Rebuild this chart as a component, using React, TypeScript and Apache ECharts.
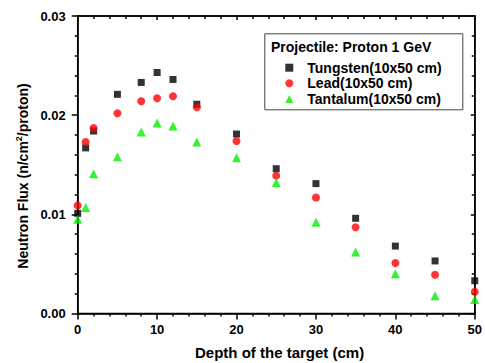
import React, { useEffect, useRef } from "react";
import * as echarts from "echarts";

const depth = [0, 1, 2, 5, 8, 10, 12, 15, 20, 25, 30, 35, 40, 45, 50];
const tungsten = [0.0101, 0.0167, 0.0184, 0.0221, 0.0233, 0.0243, 0.0236, 0.0211, 0.0181, 0.0146, 0.0131, 0.0096, 0.0068, 0.0053, 0.0033];
const lead = [0.0109, 0.0173, 0.0187, 0.0202, 0.0214, 0.0217, 0.0219, 0.0208, 0.0174, 0.0139, 0.0117, 0.0087, 0.0051, 0.0039, 0.0022];
const tantalum = [0.0095, 0.0107, 0.0141, 0.0158, 0.0183, 0.0192, 0.0189, 0.0173, 0.0157, 0.0132, 0.0092, 0.0062, 0.0040, 0.0018, 0.0014];
const seriesNames = ["Tungsten(10x50 cm)", "Lead(10x50 cm)", "Tantalum(10x50 cm)"];
const legendTitle = "Projectile: Proton 1 GeV";
const xTitle = "Depth of the target (cm)";
const yTitleMain = "Neutron Flux (n/cm";
const yTitleSup = "2";
const yTitleEnd = "/proton)";

const FONT = "Arial, 'Liberation Sans', sans-serif";

function parts(inside: boolean, labels: boolean) {
  return {
    axisLine: { show: true, onZero: false, lineStyle: { color: "#000000", width: 1.5 } },
    axisTick: { show: true, inside, length: inside ? 4 : 6, lineStyle: { color: "#000000", width: 1.5 } },
    minorTick: { show: true, splitNumber: 5, length: 3, lineStyle: { color: "#000000", width: 1.5 } },
    splitLine: { show: false },
    axisLabel: labels
      ? { show: true, color: "#000", fontSize: 13, fontWeight: "bold", fontFamily: FONT }
      : { show: false },
  };
}

export default function App() {
  const ref = useRef<HTMLDivElement>(null);
  useEffect(() => {
    if (!ref.current) return;
    const chart = echarts.init(ref.current, undefined, { renderer: "svg" });
    const pair = (ys: number[]) => depth.map((x, i) => [x, ys[i]]);
    const xb: any = parts(false, true);
    const yl: any = parts(false, true);
    chart.setOption({
      animation: false,
      backgroundColor: "#fff",
      grid: { left: 77.7, right: 4.3, top: 16, bottom: 49.5, show: true, borderColor: "#000", borderWidth: 1.5, backgroundColor: "transparent" },
      xAxis: [
        { type: "value", min: 0, max: 50, interval: 10, position: "bottom", ...xb, axisLabel: { ...xb.axisLabel, margin: 9 } },
        { type: "value", min: 0, max: 50, interval: 10, position: "top", ...parts(true, false) },
      ],
      yAxis: [
        {
          type: "value", min: 0, max: 0.03, interval: 0.01, position: "left", ...yl,
          axisLabel: { ...yl.axisLabel, margin: 12, formatter: (v: number) => v.toFixed(2) },
        },
        { type: "value", min: 0, max: 0.03, interval: 0.01, position: "right", ...parts(true, false) },
      ],
      legend: {
        orient: "vertical", left: 280.3, top: 54.9, itemWidth: 8, itemHeight: 8, itemGap: 0,
        data: seriesNames,
        textStyle: { color: "#000", fontSize: 14, fontWeight: "bold", fontFamily: FONT, padding: [0, 0, 0, 9], lineHeight: 15.6 },
      },
      graphic: [
        {
          type: "rect", left: 264.3, top: 33.3, z: 0,
          shape: { width: 198, height: 76 },
          style: { fill: "#fff", stroke: "#444", lineWidth: 1 },
        },
        {
          type: "text", left: 271, top: 39.5, z: 10,
          style: { text: legendTitle, fill: "#000", font: `bold 14px ${FONT}` },
        },
        {
          type: "text", left: 195, top: 345, z: 10,
          style: { text: xTitle, fill: "#000", font: `bold 15px ${FONT}` },
        },
      ],
      series: [
        { name: seriesNames[0], type: "scatter", symbol: "rect", symbolSize: 7, data: pair(tungsten), itemStyle: { color: "#000" }, z: 3 },
        { name: seriesNames[1], type: "scatter", symbol: "circle", symbolSize: 8, data: pair(lead), itemStyle: { color: "#ff0000" }, z: 4 },
        { name: seriesNames[2], type: "scatter", symbol: "triangle", symbolSize: 9, data: pair(tantalum), itemStyle: { color: "#00f000" }, z: 5 },
      ],
    });
    return () => chart.dispose();
  }, []);
  return (
    <div style={{ position: "fixed", left: 0, top: 0, width: 485, height: 363, background: "#fff" }}>
      <div ref={ref} style={{ position: "absolute", left: 0, top: 0, width: 485, height: 363 }} />
      <div
        style={{
          position: "absolute", left: 23, top: 176, transform: "translate(-50%, -50%) rotate(-90deg)",
          whiteSpace: "nowrap", fontFamily: FONT, fontWeight: "bold", fontSize: 14, color: "#000", lineHeight: "16px",
          pointerEvents: "none",
        }}
      >
        {yTitleMain}
        <sup style={{ fontSize: 9, verticalAlign: "super", lineHeight: 0 }}>{yTitleSup}</sup>
        {yTitleEnd}
      </div>
    </div>
  );
}
